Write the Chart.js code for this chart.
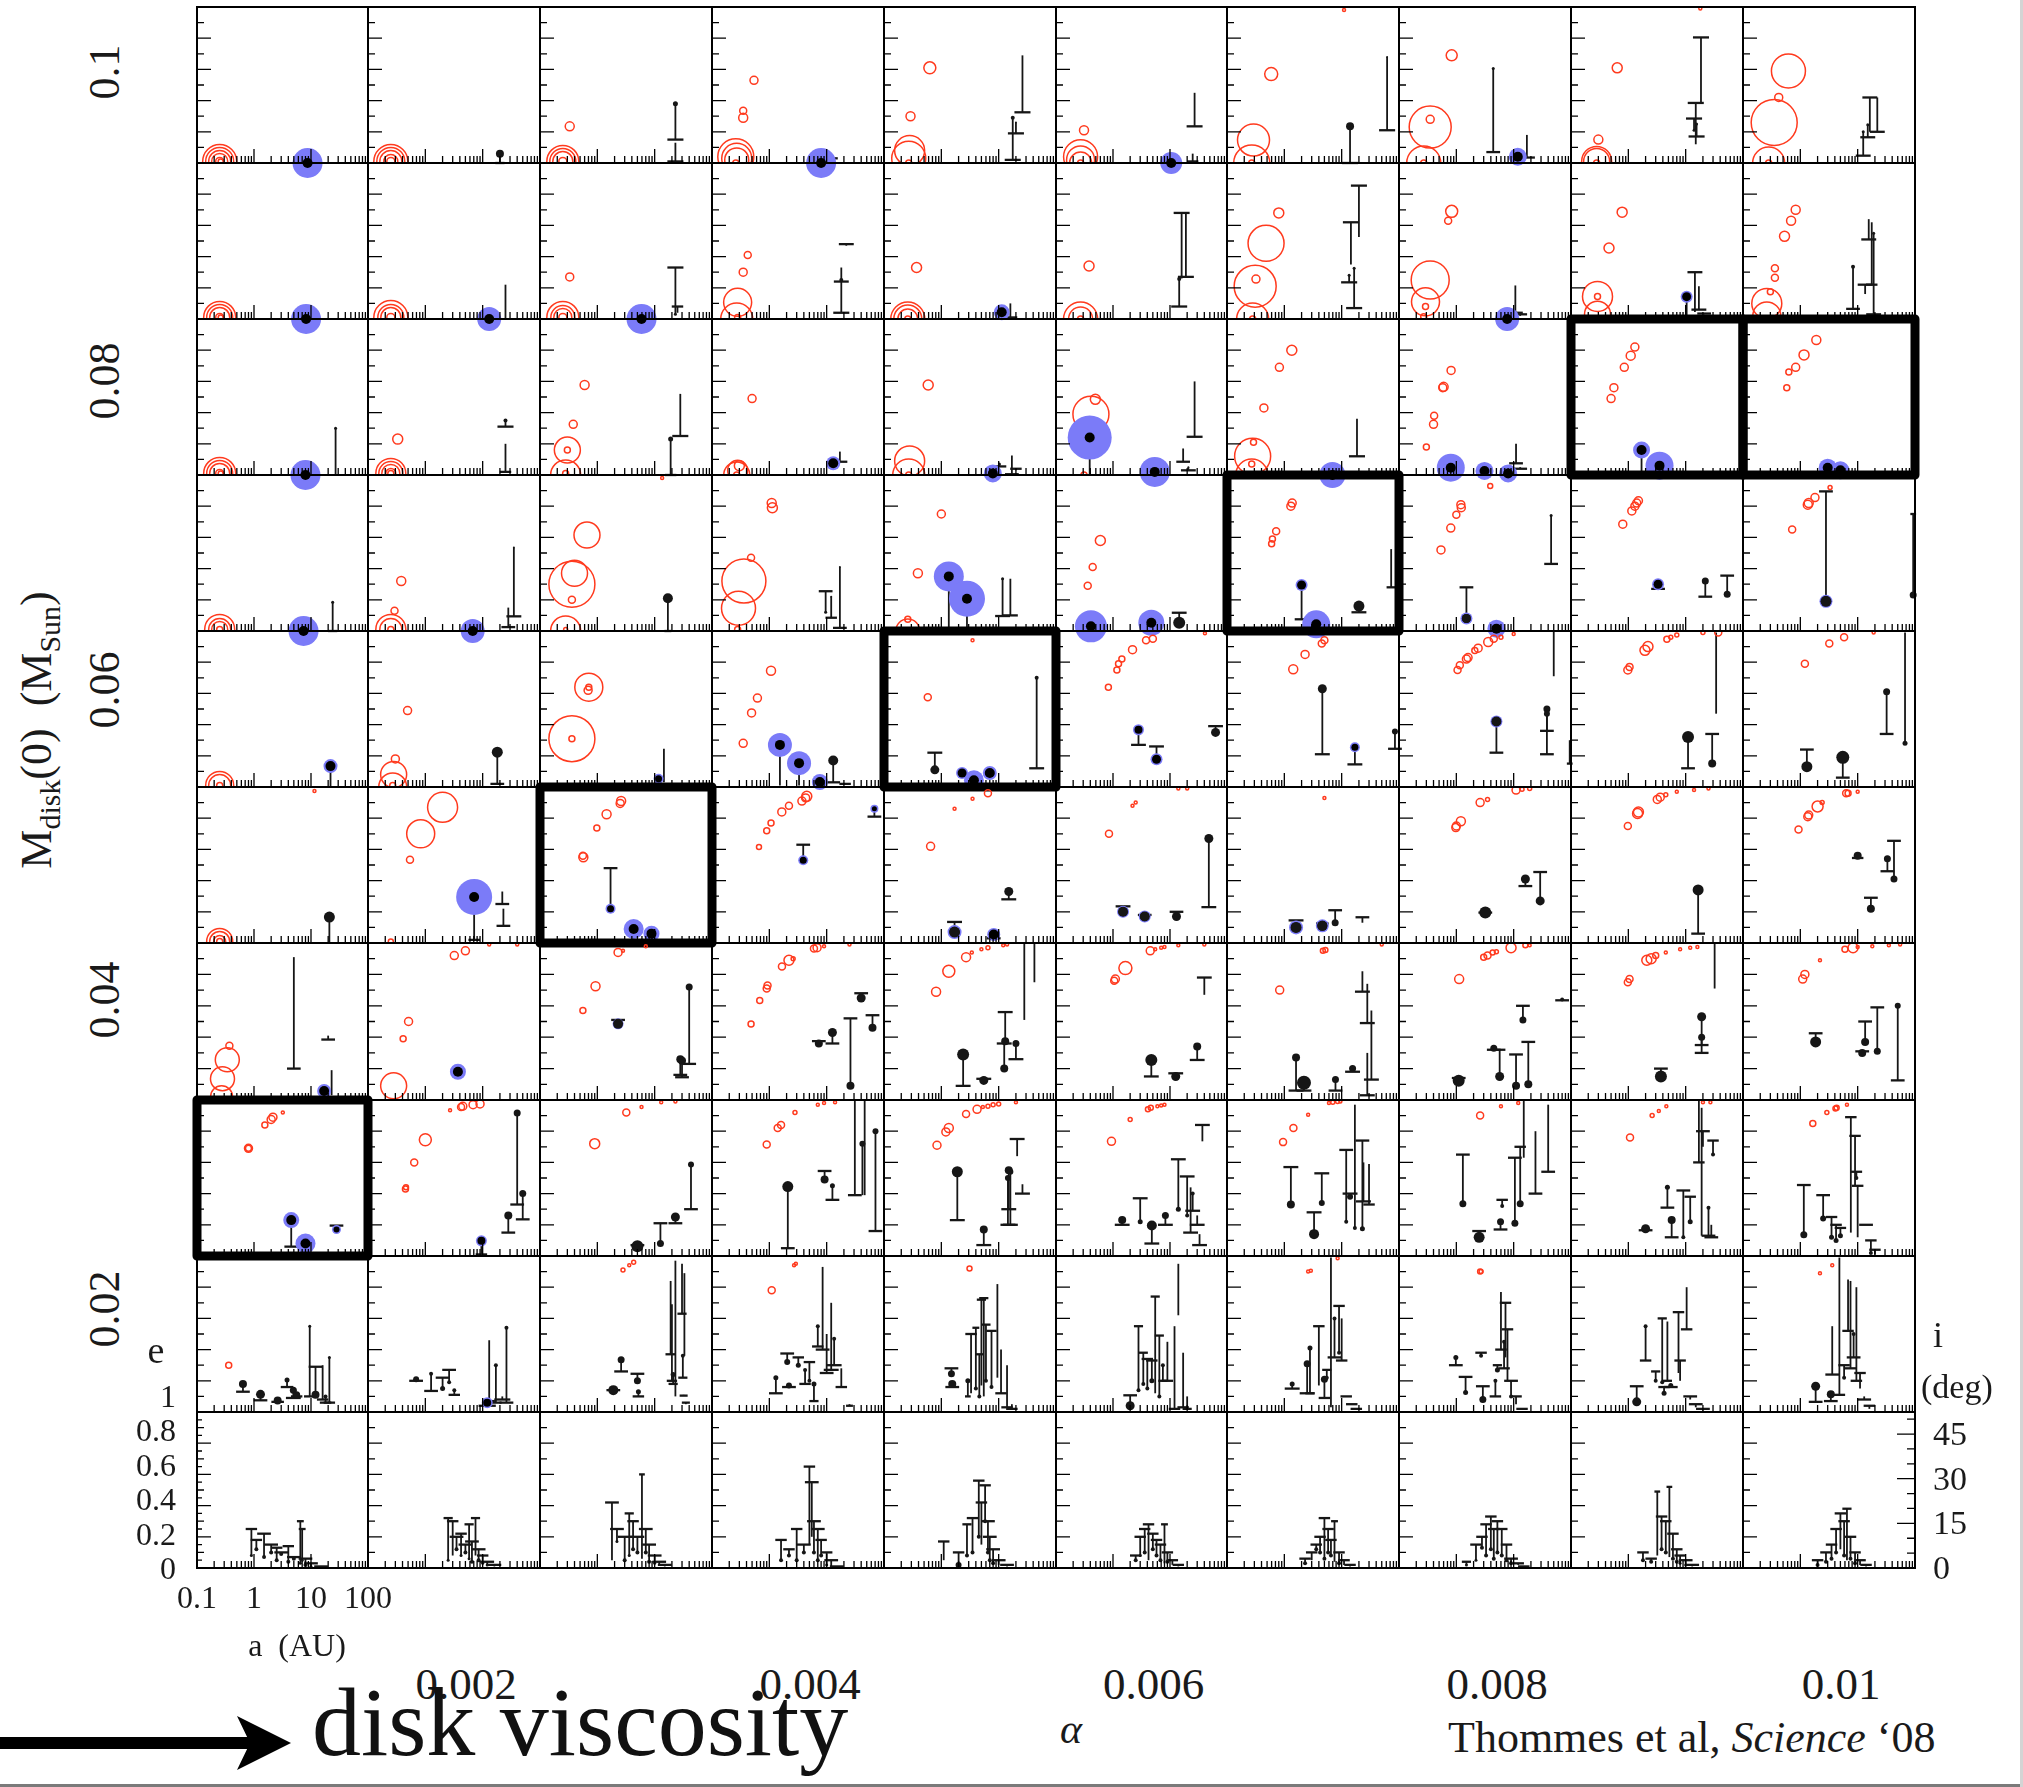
<!DOCTYPE html>
<html>
<head>
<meta charset="utf-8">
<script src="https://cdn.jsdelivr.net/npm/chart.js@4.4.1/dist/chart.umd.min.js"></script>
<style>
  html, body { margin: 0; padding: 0; background: #fff; }
  #page { position: relative; width: 2023px; height: 1787px; overflow: hidden; background: #fff;
          font-family: 'Liberation Serif', 'DejaVu Serif', serif; color: #1a1a1a; }
  #page canvas { position: absolute; }
  .lbl { position: absolute; white-space: nowrap; line-height: 1; transform: translate(-50%, -50%); }
  .rot { transform: translate(-50%, -50%) rotate(-90deg); }
  .lbl sub { font-size: 0.68em; vertical-align: -0.3em; }
</style>
</head>
<body>
<div id="page"></div>
<script>
// grid of runs: rows = initial disk mass (Msun), columns = viscosity alpha
const diskMasses = [0.1, 0.09, 0.08, 0.07, 0.06, 0.05, 0.04, 0.03, 0.02, 0.01];
const alphas = [0.001, 0.002, 0.003, 0.004, 0.005, 0.006, 0.007, 0.008, 0.009, 0.01];

const massTicks = [0.1, 0.08, 0.06, 0.04, 0.02];
const massTickLabels = ['0.1', '0.08', '0.06', '0.04', '0.02'];
const alphaTicks = [0.002, 0.004, 0.006, 0.008, 0.01];
const alphaTickLabels = ['0.002', '0.004', '0.006', '0.008', '0.01'];
const aTicks = [0.1, 1, 10, 100];
const aTickLabels = ['0.1', '1', '10', '100'];
const eTickLabels = ['0', '0.2', '0.4', '0.6', '0.8', '1'];
const incTicks = [0, 15, 30, 45];
const incMax = 52.4;

// runs outlined in bold
const highlighted = [[3, 9], [3, 10], [4, 7], [5, 5], [6, 3], [8, 1]];

// embryos / cores (open red): [row, col, a(AU), e, radius px]
const redCircles = [
  [1,1,0.25,0.01,17],[1,1,0.25,0.01,14],[1,1,0.25,0.01,11],[1,1,0.25,0.01,8],[1,1,0.25,0.01,4],[1,1,0.26,0.01,2.5],
  [1,2,0.25,0.01,17],[1,2,0.25,0.01,14],[1,2,0.25,0.01,11],[1,2,0.25,0.01,7],[1,2,0.25,0.01,4],
  [1,3,0.33,0.235,4.5],[1,3,0.25,0.01,16],[1,3,0.25,0.01,13],[1,3,0.25,0.01,10],[1,3,0.25,0.01,4],
  [1,4,0.54,0.53,4],[1,4,0.35,0.335,3.5],[1,4,0.35,0.29,4.5],[1,4,0.26,0.04,18],[1,4,0.27,0.03,15],[1,4,0.27,0.02,12],[1,4,0.26,0.0,3],
  [1,5,0.63,0.61,6],[1,5,0.29,0.30,4.5],[1,5,0.28,0.08,15],[1,5,0.27,0.03,17],[1,5,0.27,0.0,3],
  [1,6,0.31,0.21,4.5],[1,6,0.27,0.04,17],[1,6,0.27,0.02,14],[1,6,0.27,0.0,11],[1,6,0.27,0.0,3],
  [1,7,11,0.98,1.5],[1,7,0.59,0.57,6.5],[1,7,0.29,0.147,16],[1,7,0.27,0.0,18],[1,7,0.27,0.0,3],
  [1,8,0.83,0.69,5.5],[1,8,0.35,0.23,21],[1,8,0.35,0.28,4],[1,8,0.27,0.0,17],[1,8,0.27,0.0,3],
  [1,9,18,0.99,1.5],[1,9,0.64,0.61,5],[1,9,0.3,0.15,4.5],[1,9,0.28,0.01,15],[1,9,0.28,0.01,13],[1,9,0.28,0.0,3],
  [1,10,0.62,0.59,17],[1,10,0.42,0.42,4],[1,10,0.35,0.26,23],[1,10,0.28,0.0,16],[1,10,0.28,0.0,3],
  [2,1,0.25,0.01,16],[2,1,0.25,0.01,13],[2,1,0.25,0.01,10],[2,1,0.25,0.01,4],[2,1,0.26,0.01,2.5],
  [2,2,0.25,0.01,17],[2,2,0.25,0.01,13],[2,2,0.25,0.01,10],[2,2,0.25,0.01,4],
  [2,3,0.33,0.27,4],[2,3,0.25,0.01,16],[2,3,0.25,0.01,12],[2,3,0.25,0.01,9],[2,3,0.25,0.01,4],
  [2,4,0.42,0.41,3.5],[2,4,0.35,0.30,4],[2,4,0.28,0.107,14],[2,4,0.27,0.0,16],[2,4,0.28,0.01,3],
  [2,5,0.37,0.33,5],[2,5,0.26,0.0,17],[2,5,0.26,0.0,14],[2,5,0.26,0.0,10],[2,5,0.26,0.0,3],
  [2,6,0.38,0.34,5],[2,6,0.27,0.0,17],[2,6,0.27,0.0,12],[2,6,0.27,0.0,3],
  [2,7,0.8,0.68,5],[2,7,0.48,0.485,18],[2,7,0.31,0.21,21],[2,7,0.32,0.256,4],[2,7,0.28,0.0,16],[2,7,0.28,0.0,3],
  [2,8,0.83,0.69,6],[2,8,0.72,0.63,3.5],[2,8,0.35,0.25,19],[2,8,0.29,0.11,14],[2,8,0.29,0.08,3],[2,8,0.27,0.015,3],
  [2,9,0.78,0.685,5],[2,9,0.46,0.455,5],[2,9,0.29,0.145,15],[2,9,0.29,0.145,3],[2,9,0.29,0.03,13],
  [2,10,0.83,0.7,4.5],[2,10,0.69,0.63,4.5],[2,10,0.53,0.53,5],[2,10,0.36,0.325,3.5],[2,10,0.36,0.265,3.5],[2,10,0.3,0.175,3],[2,10,0.26,0.1,15],[2,10,0.26,0.02,14],
  [3,1,0.25,0.01,16],[3,1,0.25,0.01,13],[3,1,0.25,0.01,10],[3,1,0.25,0.01,4],[3,1,0.26,0.01,2.5],
  [3,2,0.33,0.23,5],[3,2,0.25,0.01,15],[3,2,0.25,0.01,12],[3,2,0.25,0.01,9],[3,2,0.25,0.01,5],[3,2,0.25,0.01,3],
  [3,3,0.6,0.577,4.5],[3,3,0.38,0.325,4],[3,3,0.3,0.16,13],[3,3,0.3,0.16,3],[3,3,0.28,0.0,15],[3,3,0.28,0.01,3],
  [3,4,0.5,0.49,4],[3,4,0.3,0.06,5],[3,4,0.28,0.03,10],[3,4,0.27,0.0,13],[3,4,0.27,0.0,3],
  [3,5,0.59,0.577,5],[3,5,0.28,0.09,15],[3,5,0.27,0.0,16],[3,5,0.27,0.0,3],
  [3,6,0.49,0.485,5],[3,6,0.41,0.39,18],[3,6,0.31,0.0,3],
  [3,7,1.35,0.80,5],[3,7,0.82,0.69,4],[3,7,0.44,0.43,4],[3,7,0.28,0.12,18],[3,7,0.29,0.21,3],[3,7,0.27,0.07,3],[3,7,0.27,0.0,16],
  [3,8,0.81,0.67,4],[3,8,0.6,0.565,4.5],[3,8,0.58,0.56,4],[3,8,0.41,0.38,3.5],[3,8,0.4,0.325,4],[3,8,0.3,0.18,3],
  [3,9,1.3,0.82,4],[3,9,1.1,0.765,4.5],[3,9,0.85,0.69,4],[3,9,0.56,0.56,4],[3,9,0.5,0.49,4],
  [3,10,1.9,0.865,4.5],[3,10,1.16,0.77,5],[3,10,0.83,0.69,4],[3,10,0.63,0.66,3],[3,10,0.58,0.56,3],
  [4,1,0.25,0.01,15],[4,1,0.25,0.01,11],[4,1,0.25,0.01,8],[4,1,0.25,0.01,3],
  [4,2,0.38,0.32,4.5],[4,2,0.29,0.13,3.5],[4,2,0.25,0.01,15],[4,2,0.25,0.01,11],[4,2,0.25,0.01,3],
  [4,3,13.5,0.98,1.5],[4,3,0.66,0.615,13],[4,3,0.4,0.37,13],[4,3,0.36,0.3,23],[4,3,0.36,0.2,3.5],[4,3,0.28,0.0,15],[4,3,0.28,0.01,2],
  [4,4,1.13,0.79,5],[4,4,1.1,0.82,4.5],[4,4,0.48,0.47,3.5],[4,4,0.36,0.32,22],[4,4,0.29,0.146,17],[4,4,0.28,0.01,3],
  [4,5,1.0,0.75,4],[4,5,0.39,0.37,4.5],[4,5,0.26,0.075,3],[4,5,0.26,0.0,12],
  [4,6,0.6,0.58,5],[4,6,0.44,0.41,3.5],[4,6,0.36,0.29,3.5],
  [4,7,1.37,0.82,4],[4,7,1.3,0.8,4],[4,7,0.72,0.64,3.5],[4,7,0.62,0.59,3],[4,7,0.6,0.56,3],
  [4,8,1.2,0.81,4],[4,8,1.22,0.79,4],[4,8,1.0,0.745,3.5],[4,8,0.8,0.66,4],[4,8,0.54,0.52,4],[4,8,3.9,0.93,2.5],
  [4,9,1.5,0.835,4],[4,9,1.4,0.82,4],[4,9,1.3,0.8,4],[4,9,1.15,0.77,4],[4,9,0.8,0.685,4],
  [4,10,1.8,0.855,4],[4,10,1.4,0.82,4.5],[4,10,1.35,0.81,4.5],[4,10,0.72,0.65,3.5],[4,10,3.3,0.92,2],
  [5,1,0.25,0.01,14],[5,1,0.25,0.01,11],[5,1,0.25,0.01,3],
  [5,2,0.49,0.49,4],[5,2,0.3,0.18,4],[5,2,0.28,0.08,13],[5,2,0.27,0.0,14],[5,2,0.27,0.01,3],
  [5,3,0.71,0.64,14],[5,3,0.69,0.62,4],[5,3,0.71,0.64,3],[5,3,0.36,0.31,23],[5,3,0.36,0.31,3],
  [5,4,1.07,0.745,4.5],[5,4,0.62,0.57,4],[5,4,0.49,0.475,4],[5,4,0.35,0.28,4],
  [5,5,3.5,0.94,1.5],[5,5,0.58,0.575,3.5],
  [5,6,5,0.95,3.5],[5,6,3.8,0.94,3.5],[5,6,2.2,0.88,4],[5,6,1.43,0.82,3],[5,6,1.25,0.79,3],[5,6,1.17,0.75,3],[5,6,0.83,0.64,3],[5,6,41,0.985,1.5],
  [5,7,4.5,0.92,3.5],[5,7,5,0.94,3.5],[5,7,2.3,0.85,4],[5,7,1.43,0.755,4.5],
  [5,8,1.05,0.75,3.5],[5,8,1.15,0.78,3.5],[5,8,1.5,0.82,4],[5,8,1.6,0.83,4],[5,8,2.4,0.89,4],[5,8,2.1,0.875,3],[5,8,3.6,0.93,4.5],[5,8,4.5,0.95,3.5],[5,8,6,0.96,2],[5,8,10,0.98,1.5],
  [5,9,0.98,0.75,4],[5,9,1.05,0.77,3.5],[5,9,1.95,0.876,5],[5,9,2.2,0.9,5],[5,9,4.7,0.947,3],[5,9,5.5,0.96,2],[5,9,7,0.975,2],[5,9,20,0.99,2],[5,9,37,0.99,3.5],
  [5,10,1.2,0.79,3.5],[5,10,3.2,0.92,3.5],[5,10,5.8,0.96,3.5],[5,10,19,0.99,1.5],
  [6,1,11.5,0.975,1.5],[6,1,0.25,0.01,13],[6,1,0.25,0.01,10],[6,1,0.25,0.01,6],[6,1,0.25,0.01,3],
  [6,2,2,0.87,15],[6,2,0.83,0.70,14],[6,2,0.54,0.534,3.5],[6,2,0.25,0.01,2.5],
  [6,3,2.6,0.91,4.5],[6,3,2.5,0.895,4],[6,3,1.45,0.825,4.5],[6,3,0.98,0.737,3],[6,3,0.57,0.55,4.5],[6,3,0.56,0.56,3.5],
  [6,4,4.5,0.94,5],[6,4,4.3,0.93,4],[6,4,3.7,0.91,4],[6,4,2.2,0.88,3.5],[6,4,1.65,0.84,4],[6,4,1.07,0.77,3],[6,4,0.9,0.72,3],[6,4,0.66,0.616,2.5],
  [6,5,6.5,0.96,3.5],[6,5,3.5,0.925,1.5],[6,5,1.7,0.86,1.5],[6,5,0.65,0.62,4],
  [6,6,2.2,0.88,1.5],[6,6,2.5,0.9,1.5],[6,6,0.85,0.7,3.5],[6,6,14,0.99,1.5],[6,6,20,0.99,1.5],
  [6,7,5,0.93,1.5],
  [6,8,11,0.98,4],[6,8,14,0.985,2],[6,8,19,0.99,2],[6,8,3.5,0.92,2],[6,8,2.6,0.9,4],[6,8,1.2,0.78,4.5],[6,8,1.0,0.75,4],[6,8,0.98,0.74,4],
  [6,9,0.98,0.75,3.5],[6,9,1.45,0.83,5],[6,9,1.5,0.84,5],[6,9,3.2,0.92,4],[6,9,3.6,0.935,4],[6,9,4.5,0.95,2],[6,9,7,0.97,1.5],[6,9,14,0.98,1.5],[6,9,25,0.99,1.5],
  [6,10,0.93,0.727,3.5],[6,10,1.35,0.81,4],[6,10,1.4,0.82,4],[6,10,2,0.875,5.5],[6,10,2.4,0.9,2],[6,10,6.3,0.96,3.5],[6,10,6.8,0.96,3],[6,10,10,0.97,1.5],
  [7,1,0.34,0.256,12],[7,1,0.28,0.136,12],[7,1,0.27,0.02,11],[7,1,0.37,0.345,3.5],
  [7,2,3.2,0.92,4],[7,2,5,0.95,4],[7,2,13,0.99,1.5],[7,2,40,0.99,1.5],[7,2,0.51,0.5,4],[7,2,0.41,0.39,3],[7,2,0.28,0.09,13],
  [7,3,0.93,0.725,4.5],[7,3,0.56,0.57,3],[7,3,2.3,0.94,4],[7,3,2.8,0.95,1.5],[7,3,7,0.98,1.5],
  [7,4,0.48,0.484,3],[7,4,0.68,0.633,3],[7,4,0.93,0.73,3.5],[7,4,0.9,0.71,3.5],[7,4,1.66,0.85,3.5],[7,4,2.2,0.89,5],[7,4,2.6,0.9,2],[7,4,6.8,0.97,4],[7,4,6,0.965,3.5],[7,4,9,0.98,1.5],[7,4,25,0.99,1.5],
  [7,5,0.81,0.69,4.5],[7,5,1.35,0.82,6],[7,5,2.7,0.91,4.5],[7,5,3.4,0.94,1.5],[7,5,5,0.96,1.5],[7,5,6.5,0.97,2],[7,5,12,0.985,1.5],[7,5,14,0.99,1.5],
  [7,6,1.65,0.84,6.5],[7,6,1.1,0.77,4],[7,6,1.05,0.76,3.5],[7,6,4.5,0.95,4],[7,6,5.5,0.96,1.5],[7,6,7,0.97,1.5],[7,6,8,0.975,1.5],[7,6,14,0.985,1.5],[7,6,40,0.99,1.5],
  [7,7,0.83,0.7,4],[7,7,4.7,0.95,2.5],[7,7,5.2,0.955,2.5],[7,7,50,0.99,1.5],
  [7,8,1.12,0.77,4.5],[7,8,3,0.91,3],[7,8,3.5,0.92,3.5],[7,8,4.3,0.94,2.5],[7,8,5,0.945,2],[7,8,9,0.97,5],[7,8,16,0.985,2.5],[7,8,19,0.985,1.5],
  [7,9,0.98,0.75,3.5],[7,9,1.05,0.77,3.5],[7,9,2.1,0.89,5],[7,9,2.5,0.9,5],[7,9,3,0.92,3],[7,9,4.5,0.94,1.5],[7,9,8,0.96,1.5],[7,9,12,0.97,1.5],[7,9,16,0.975,1.5],
  [7,10,1.1,0.77,4],[7,10,1.2,0.8,4],[7,10,2.2,0.89,1.5],[7,10,6,0.96,3],[7,10,8.3,0.97,5],[7,10,10,0.975,1.5],[7,10,18,0.98,1.5],[7,10,35,0.985,1.5],[7,10,55,0.99,1.5],
  [8,1,3.2,0.92,1.5],[8,1,2.15,0.89,4],[8,1,2,0.875,4],[8,1,1.55,0.84,3],[8,1,0.8,0.69,4],[8,1,0.8,0.69,3],
  [8,2,2.7,0.935,1.5],[8,2,4.5,0.96,4],[8,2,4.2,0.955,3.5],[8,2,6.8,0.97,4],[8,2,9,0.975,4],[8,2,1.0,0.745,6],[8,2,0.64,0.6,3.5],[8,2,0.45,0.43,3],[8,2,0.46,0.44,2.5],
  [8,3,3.2,0.92,3.5],[8,3,0.9,0.72,5],[8,3,5.9,0.955,1.5],[8,3,13,0.985,1.5],[8,3,23,0.99,1.5],
  [8,4,0.9,0.715,3.5],[8,4,1.4,0.82,3.5],[8,4,1.6,0.84,3.5],[8,4,2.8,0.92,2],[8,4,7,0.97,1.5],[8,4,9,0.98,1.5],[8,4,14,0.985,1.5],
  [8,5,0.84,0.71,4],[8,5,1.2,0.795,4],[8,5,1.35,0.82,4.5],[8,5,2.7,0.91,3.5],[8,5,4.2,0.94,4],[8,5,5.3,0.955,1.5],[8,5,6.5,0.96,2],[8,5,8,0.97,2],[8,5,10,0.975,2],[8,5,20,0.985,1.5],
  [8,6,0.94,0.735,4],[8,6,2,0.875,2],[8,6,4.1,0.94,2.5],[8,6,4.6,0.95,2.5],[8,6,6,0.96,1.5],[8,6,7,0.965,1.5],[8,6,8,0.97,1.5],
  [8,7,0.95,0.73,3.5],[8,7,1.44,0.82,3.5],[8,7,2.6,0.905,1.5],[8,7,6,0.98,1.5],[8,7,7,0.985,2],[8,7,8.5,0.99,2],[8,7,9.5,0.99,1.5],
  [8,8,2.6,0.9,3.5],[8,8,6,0.96,1.5],[8,8,12,0.98,1.5],
  [8,9,1.07,0.76,3.5],[8,9,2.6,0.9,2],[8,9,3.4,0.93,1.5],[8,9,4.6,0.96,1.5],[8,9,20,0.985,1.5],[8,9,27,0.985,1.5],
  [8,10,1.65,0.85,3],[8,10,2.9,0.92,2],[8,10,4.1,0.945,2.5],[8,10,4.3,0.95,2.5],[8,10,6.5,0.97,1.5],
  [9,1,0.36,0.3,3],
  [9,3,2.8,0.91,2],[9,3,3.6,0.94,1.5],[9,3,4.3,0.96,2],
  [9,4,1.1,0.78,3.5],[9,4,2.7,0.94,1.5],[9,4,2.9,0.95,1.5],
  [9,5,3.1,0.92,2.5],
  [9,7,2.6,0.9,1.5],[9,7,2.9,0.905,1.5],[9,7,8.5,0.985,1.5],
  [9,8,2.6,0.9,2.5],[9,8,2.7,0.9,2],
  [9,10,2.2,0.89,1.5],[9,10,3.6,0.94,1.5]
];

// gas giants (filled blue): [row, col, a(AU), e, radius px]
const giants = [
  [1,1,8.7,0.0,15],[1,4,8,0.0,15],[1,6,10.5,0.0,11],[1,8,11.8,0.04,9],
  [2,1,8.2,0.0,15],[2,2,13,0.0,12],[2,3,5.9,0.0,15],[2,5,11.3,0.043,8],[2,8,7.7,0.0,12],[2,9,10.4,0.143,6],
  [3,1,8,0.0,15],[3,4,13,0.075,7],[3,5,7.9,0.01,9],[3,6,0.39,0.24,22],[3,6,5.4,0.02,15],[3,7,6.9,0.0,13],
  [3,8,0.8,0.047,14],[3,8,3.1,0.026,9],[3,8,8,0.01,9],[3,9,1.7,0.16,8.5],[3,9,3.5,0.06,14],[3,10,3,0.047,9],[3,10,5,0.03,9],
  [4,1,7.4,0.0,15],[4,2,6.7,0.0,12],[4,5,1.35,0.35,15],[4,5,2.8,0.207,18],[4,6,0.41,0.03,16],[4,6,4.7,0.053,13],
  [4,7,2,0.295,6],[4,7,3.6,0.043,14],[4,8,1.5,0.08,6],[4,8,5,0.015,9],[4,9,3.3,0.3,6],[4,10,2.8,0.19,6.5],
  [5,1,22,0.134,7],[5,3,11.7,0.053,5],[5,4,1.53,0.27,12],[5,4,3.3,0.153,12],[5,4,7.6,0.032,8],
  [5,5,2.3,0.09,6],[5,5,3.7,0.043,10],[5,5,7,0.09,7],[5,6,2.8,0.367,5.5],[5,6,5.8,0.178,6],[5,7,17,0.255,5],[5,8,5,0.42,6],
  [6,2,7.1,0.295,18],[6,3,1.7,0.22,5],[6,3,4.3,0.09,10],[6,3,8.8,0.06,8],[6,4,3.9,0.53,5],[6,4,68,0.86,4],
  [6,5,1.7,0.07,7],[6,5,8.2,0.055,6.5],[6,6,1.5,0.2,6],[6,6,3.6,0.17,6],[6,7,1.6,0.1,7],[6,7,4.6,0.11,6.5],
  [7,1,17,0.057,7],[7,2,3.7,0.18,8],[7,3,2.3,0.485,5.5],
  [8,1,4.5,0.23,8],[8,1,8,0.08,10],[8,1,28,0.17,4.5],[8,2,9.5,0.097,5.5],
  [9,2,12,0.06,5.5]
];

// planets: [row, col, a(AU), e, i (on the e scale), dot radius px, bar half-width (dex)]
const planets = [
  [1,2,20,0.06,0.0,4,0.08],
  [1,3,23,0.38,0.15,2.5,0.14],[1,3,23,0.13,0.01,0,0.14],
  [1,4,13,0.0,0.03,0,0.08],
  [1,5,17.6,0.29,0.02,2,0.14],[1,5,20,0.26,0.19,1,0.14],[1,5,26,0.69,0.325,0,0.14],
  [1,6,27,0.45,0.235,0,0.14],[1,6,25,0.06,0.01,0,0.1],
  [1,7,14,0.235,0.0,4,0.14],[1,7,62,0.68,0.21,1,0.14],
  [1,8,4.4,0.605,0.07,1.5,0.12],[1,8,17,0.18,0.035,0,0.14],
  [1,9,18.5,0.385,0.805,0,0.14],[1,9,15,0.12,0.385,0,0.14],[1,9,14,0.21,0.285,1.5,0.14],[1,9,15.5,0.25,0.17,1.5,0.14],
  [1,10,16.3,0.2,0.42,0,0.13],[1,10,22,0.42,0.2,0,0.13],[1,10,12.5,0.2,0.047,1.5,0.13],[1,10,15,0.245,0.165,1.5,0.13],
  [2,2,25,0.0,0.22,0,0],
  [2,3,23,0.03,0.33,1.5,0.14],[2,3,25,0.04,0.08,0,0.1],
  [2,4,18,0.25,0.04,2,0.14],[2,4,18,0.33,0.24,0,0.13],[2,4,22,0.47,0.48,0,0.13],
  [2,5,16,0.1,0.01,0,0.12],
  [2,6,14.5,0.256,0.08,2,0.14],[2,6,16,0.27,0.68,1.5,0.14],[2,6,19,0.68,0.27,0,0.14],
  [2,7,20,0.525,0.855,0,0.14],[2,7,14.5,0.35,0.62,0,0.14],[2,7,16.5,0.325,0.07,1.5,0.14],[2,7,13.5,0.28,0.235,1.5,0.14],
  [2,8,10.7,0.215,0.04,0,0.13],[2,8,13,0.02,0.03,0,0.12],
  [2,9,14.5,0.045,0.3,0,0.13],[2,9,17,0.21,0.06,0,0.13],[2,9,21,0.03,0.035,0,0.12],[2,9,10.4,0.143,0,0,0],
  [2,10,8.3,0.335,0.065,2,0.12],[2,10,15.6,0.64,0.51,0,0.13],[2,10,17.6,0.62,0.22,0,0.1],[2,10,19,0.55,0.03,1.5,0.13],[2,10,13.5,0.16,0.22,0,0.13],
  [3,1,27,0.3,0.0,1.5,0],
  [3,2,25,0.35,0.31,2,0.14],[3,2,25,0.2,0.02,0,0.1],
  [3,3,19,0.23,0.0,2.5,0.1],[3,3,28,0.52,0.25,0,0.14],
  [3,4,17,0.15,0.085,0,0.13],
  [3,5,10.3,0.07,0.055,1.5,0.12],[3,5,17,0.125,0.005,0,0.12],[3,5,20,0.035,0.04,1,0.1],
  [3,6,27,0.6,0.245,0,0.14],[3,6,17,0.17,0.085,0,0.12],[3,6,21,0.05,0.03,1,0.13],[3,6,0.39,0.24,0.0,0,0],
  [3,7,18.5,0.36,0.12,0,0.14],
  [3,8,11,0.2,0.075,0,0.12],[3,8,13,0.05,0.04,0,0.12],
  [3,9,1.7,0.16,0.0,0,0],
  [4,1,24,0.185,0,1.5,0.08],
  [4,2,35,0.535,0.094,1,0.13],[4,2,28,0.15,0.025,0,0.12],
  [4,3,17,0.21,0.0,5,0.06],
  [4,4,9.6,0.12,0.255,1.5,0.12],[4,4,12,0.22,0.085,1,0.1],[4,4,17,0.41,0.02,1,0.12],
  [4,5,11.7,0.335,0.096,1.5,0.13],[4,5,16,0.335,0.1,0,0.13],[4,5,1.35,0.35,0,0,0],[4,5,2.8,0.207,0,0,0],
  [4,6,14.5,0.053,0.117,6,0.13],
  [4,7,2,0.295,0.075,0,0.12],[4,7,20,0.16,0.12,5.5,0.13],[4,7,73,0.525,0.28,0,0.08],
  [4,8,1.5,0.08,0.28,4.5,0.12],[4,8,45,0.74,0.43,1.5,0.12],
  [4,9,3.3,0.3,0.27,0,0.12],[4,9,22,0.32,0.22,3.5,0.12],[4,9,53,0.235,0.355,3.5,0.12],
  [4,10,2.8,0.19,0.895,5.5,0.12],[4,10,93,0.23,0.75,3.5,0.05],
  [5,1,22,0.134,0,0,0],
  [5,2,18,0.223,0.02,5.5,0.12],
  [5,3,14.5,0.245,0.03,0,0],
  [5,4,13,0.17,0.03,5,0.12],[5,4,1.53,0.27,0.01,0,0],[5,4,3.3,0.153,0.01,0,0],[5,4,21,0.015,0.02,0,0.1],
  [5,5,0.77,0.11,0.22,4.5,0.13],[5,5,46,0.7,0.12,2,0.13],
  [5,6,2.8,0.367,0.27,0,0.13],[5,6,5.8,0.178,0.26,0,0.13],[5,6,63,0.35,0.39,4.5,0.13],
  [5,7,4.6,0.63,0.21,4.5,0.13],[5,7,17,0.255,0.145,0,0.13],[5,7,85,0.355,0.245,3,0.12],
  [5,8,50,1.0,0.71,0,0],[5,8,5,0.42,0.22,5,0.12],[5,8,38,0.5,0.36,3.5,0.12],[5,8,38,0.47,0.21,3,0.12],[5,8,95,0.3,0.15,0,0.05],
  [5,9,34,0.99,0.47,0,0],[5,9,11,0.32,0.12,6,0.12],[5,9,29,0.15,0.34,4,0.12],
  [5,10,32,0.61,0.34,3.5,0.12],[5,10,67,0.28,0.99,2.5,0],[5,10,1.3,0.13,0.24,5.5,0.12],[5,10,5.5,0.19,0.06,6.5,0.12],
  [6,1,21,0.166,0,5.5,0],
  [6,2,7.1,0.295,0.02,0,0.1],[6,2,22,0.33,0.25,0,0.12],[6,2,23,0.22,0.11,0,0.12],
  [6,3,1.7,0.22,0.48,0,0.12],
  [6,4,3.9,0.53,0.63,0,0.12],[6,4,68,0.86,0.81,0,0.12],
  [6,5,1.7,0.07,0.135,5.5,0.13],[6,5,8.2,0.055,0.03,0,0.12],[6,5,15,0.33,0.28,4.5,0.13],
  [6,6,1.5,0.2,0.235,5,0.13],[6,6,3.6,0.17,0.18,5,0.12],[6,6,13,0.17,0.2,4.5,0.12],[6,6,48,0.67,0.23,4.5,0.13],
  [6,7,1.6,0.1,0.145,5.5,0.13],[6,7,4.6,0.11,0.125,5,0.11],[6,7,7.7,0.13,0.21,3.5,0.12],[6,7,23,0.13,0.165,0,0.12],
  [6,8,3.2,0.195,0.195,6,0.12],[6,8,16,0.41,0.365,4.5,0.12],[6,8,29,0.27,0.455,4.5,0.12],
  [6,9,16.5,0.34,0.06,5.5,0.12],
  [6,10,10,0.56,0.545,4,0.1],[6,10,33,0.54,0.46,3.5,0.12],[6,10,43,0.41,0.655,3.5,0.12],[6,10,17,0.22,0.29,4,0.12],
  [7,1,5,0.91,0.2,0,0.12],[7,1,20,0.41,0.385,0,0.12],[7,1,23,0.19,0.03,0,0],
  [7,3,2.3,0.485,0.51,5,0.12],[7,3,28,0.26,0.16,4,0.12],[7,3,30,0.25,0.145,4,0.12],[7,3,40,0.72,0.23,3.5,0.12],
  [7,4,7.3,0.36,0.375,4,0.12],[7,4,12.6,0.43,0.36,4.5,0.12],[7,4,26,0.09,0.52,4,0.12],[7,4,40,0.65,0.68,4.5,0.12],[7,4,63,0.46,0.54,4,0.12],
  [7,5,28,1.0,0.51,0,0],[7,5,42,1.0,0.75,0,0],[7,5,2.4,0.29,0.09,6,0.13],[7,5,5.5,0.125,0.135,4.5,0.13],[7,5,13,0.375,0.56,4,0.13],[7,5,12.5,0.2,0.36,4,0.13],[7,5,20,0.36,0.26,3.5,0.13],
  [7,6,40,0.67,0.78,0,0.13],[7,6,4.7,0.255,0.15,6,0.13],[7,6,12.6,0.15,0.17,4.5,0.13],[7,6,30,0.34,0.255,4,0.13],
  [7,7,1.6,0.27,0.06,4,0.13],[7,7,2.2,0.11,0.06,7,0.13],[7,7,7.8,0.13,0.06,3.5,0.12],[7,7,15.5,0.2,0.18,3.5,0.13],[7,7,23,0.82,0.69,0,0.13],[7,7,28,0.74,0.49,0,0.13],[7,7,28,0.3,0.03,0,0.13],[7,7,33,0.57,0.13,0,0.13],
  [7,8,1.1,0.123,0.14,6,0.12],[7,8,4.5,0.33,0.32,3.5,0.12],[7,8,5.7,0.15,0.32,4.5,0.1],[7,8,14.5,0.51,0.6,3.5,0.12],[7,8,11,0.09,0.29,4,0.12],[7,8,18,0.1,0.37,4,0.12],[7,8,70,0.64,0.635,2,0.12],
  [7,9,32,1.0,0.71,0,0],[7,9,3.7,0.15,0.2,6,0.12],[7,9,19,0.53,0.35,4.5,0.12],[7,9,19,0.4,0.3,3.5,0.12],
  [7,10,1.85,0.37,0.425,5.5,0.12],[7,10,13.5,0.37,0.5,4,0.12],[7,10,12,0.3,0.31,4,0.12],[7,10,22,0.31,0.59,3.5,0.12],[7,10,50,0.6,0.125,3,0.12],
  [8,1,4.5,0.23,0.06,0,0.12],[8,1,28,0.17,0.195,0,0.12],
  [8,2,40,0.917,0.33,3.5,0.12],[8,2,50,0.4,0.235,3.5,0.12],[8,2,28,0.26,0.15,4,0.12],[8,2,9.5,0.097,0.01,0,0.1],
  [8,3,5,0.063,0.07,6,0.12],[8,3,12.6,0.08,0.21,3.5,0.12],[8,3,23,0.25,0.21,4.5,0.12],[8,3,43,0.586,0.3,3,0.12],
  [8,4,2.1,0.445,0.05,5.5,0.12],[8,4,9.2,0.49,0.545,4,0.12],[8,4,12.6,0.45,0.36,2.5,0.12],[8,4,31,1.0,0.39,0,0.12],[8,4,42,0.72,0.39,3,0],[8,4,46,1.0,0.39,0,0],[8,4,71,0.8,0.16,3,0.12],
  [8,5,1.9,0.54,0.23,5.5,0.13],[8,5,5.5,0.17,0.07,4,0.13],[8,5,15,0.55,0.3,4,0.13],[8,5,16,0.54,0.2,3,0.13],[8,5,14.5,0.5,0.2,3,0.13],[8,5,21,0.64,0.75,0,0.13],[8,5,26,0.46,0.4,0,0.13],
  [8,6,37,0.735,0.84,0,0.13],[8,6,1.45,0.23,0.2,4,0.13],[8,6,3,0.22,0.37,2.5,0.13],[8,6,4.8,0.195,0.08,5,0.13],[8,6,8.3,0.26,0.2,3.5,0.13],[8,6,14,0.3,0.62,2.5,0.13],[8,6,20,0.26,0.51,2,0.13],[8,6,23,0.44,0.15,0,0.13],[8,6,25,0.4,0.29,2,0.13],[8,6,30,0.26,0.2,0,0.13],[8,6,33,0.14,0.07,0,0.13],
  [8,7,1.3,0.33,0.57,4,0.13],[8,7,3.3,0.14,0.28,5,0.13],[8,7,4.5,0.34,0.53,3,0.13],[8,7,12,0.22,0.68,2,0.12],[8,7,14,0.38,0.4,3,0.13],[8,7,17,0.18,0.97,2,0],[8,7,23,0.175,0.74,2.5,0.12],[8,7,24,0.6,0.35,0,0.13],[8,7,30,0.59,0.33,0,0.1],
  [8,8,1.3,0.335,0.65,3.5,0.12],[8,8,2.5,0.12,0.16,5.5,0.12],[8,8,5.9,0.22,0.17,3.5,0.12],[8,8,6.3,0.32,0.36,2,0.1],[8,8,10.5,0.21,0.63,3.5,0.12],[8,8,13,0.335,0.7,3.5,0.1],[8,8,15,1.0,0.63,0,0],[8,8,24,0.8,0.4,0,0.12],[8,8,40,0.97,0.54,0,0.12],
  [8,9,2,0.175,0.165,4.5,0.12],[8,9,4.8,0.44,0.31,2.5,0.12],[8,9,5.7,0.23,0.12,4,0.12],[8,9,9.1,0.12,0.42,2,0.12],[8,9,12,0.22,0.38,2.5,0.1],[8,9,17,1.0,0.6,0,0.1],[8,9,19,0.13,0.95,0,0],[8,9,20,0.7,0.8,0,0.12],[8,9,25,0.31,0.13,2,0.12],[8,9,30,0.65,0.74,2,0.1],[8,9,28,0.2,0.12,0,0.12],
  [8,10,1.15,0.136,0.455,3.5,0.12],[8,10,2.5,0.24,0.39,3,0.12],[8,10,3.5,0.12,0.25,2.5,0.1],[8,10,4.2,0.1,0.2,2.5,0.1],[8,10,5,0.13,0.18,2.5,0.1],[8,10,7.6,0.15,0.89,0,0.1],[8,10,9,0.45,0.77,0,0.1],[8,10,9.5,0.5,0.54,2,0.1],[8,10,10,0.12,0.45,0,0.1],[8,10,14,0.2,0.2,0,0.12],[8,10,17,0.02,0.1,2,0.1],[8,10,20,0.01,0.04,0,0.1],
  [9,1,0.64,0.18,0.13,4,0.12],[9,1,1.3,0.113,0.075,4.5,0.12],[9,1,2.6,0.074,0.065,4,0.11],[9,1,3.8,0.205,0.16,2.5,0.11],[9,1,4.9,0.14,0.09,3.5,0.13],[9,1,5.6,0.11,0.1,3.5,0.1],[9,1,9.5,0.55,0.1,1.5,0.1],[9,1,12,0.11,0.29,4,0.12],[9,1,16,0.3,0.08,0,0.1],[9,1,21,0.35,0.06,1.5,0.1],[9,1,18,0.1,0.06,2,0.1],
  [9,2,0.69,0.21,0.2,3,0.12],[9,2,1.26,0.245,0.135,2,0.12],[9,2,2,0.15,0.22,2.5,0.12],[9,2,2.6,0.19,0.27,2,0.12],[9,2,3.2,0.14,0.11,2,0.1],[9,2,13,0.46,0.07,0,0.1],[9,2,17,0.3,0.06,2,0.1],[9,2,26,0.54,0.06,2,0.12],[9,2,22,0.1,0.08,0,0.14],[9,2,12,0.06,0.04,0,0.15],
  [9,3,1.9,0.14,0.14,5,0.12],[9,3,2.6,0.335,0.26,3.5,0.12],[9,3,5,0.2,0.245,3.5,0.12],[9,3,5.2,0.13,0.1,2.5,0.1],[9,3,19,0.84,0.37,0,0.09],[9,3,20,0.69,0.2,0,0.09],[9,3,21,0.24,0.18,2.5,0.08],[9,3,23,0.97,0.1,0,0],[9,3,30,0.95,0.63,0,0.08],[9,3,31,0.36,0.22,2,0.08],[9,3,33,0.89,0.36,0,0],[9,3,32,0.11,0.105,0,0.07],[9,3,35,0.05,0.06,0,0.07],
  [9,4,1.3,0.22,0.12,2.5,0.12],[9,4,2.05,0.32,0.375,3,0.12],[9,4,2.2,0.17,0.16,3,0.12],[9,4,3.2,0.3,0.35,2.5,0.1],[9,4,4.2,0.27,0.18,2,0.1],[9,4,5,0.2,0.32,2,0.1],[9,4,6,0.18,0.07,2.5,0.08],[9,4,7,0.55,0.42,2,0.1],[9,4,8.5,0.93,0.4,0,0.12],[9,4,10,0.5,0.25,0,0.12],[9,4,12,0.7,0.27,0,0.13],[9,4,13.5,0.47,0.3,2,0.13],[9,4,18,0.28,0.16,0,0.1],[9,4,25,0.05,0.04,0,0.06],
  [9,5,1.5,0.245,0.28,3.5,0.12],[9,5,1.55,0.18,0.16,4,0.12],[9,5,2.9,0.2,0.1,2.5,0.05],[9,5,3.3,0.12,0.5,0,0.1],[9,5,4,0.15,0.54,2,0.06],[9,5,4.6,0.1,0.37,2,0.07],[9,5,5,0.17,0.72,0,0.08],[9,5,5.5,0.1,0.73,0,0.08],[9,5,6,0.2,0.56,2,0.08],[9,5,7.5,0.16,0.52,2,0.09],[9,5,9.5,0.22,0.82,0,0],[9,5,11,0.4,0.12,0,0.1],[9,5,14,0.3,0.03,0,0.1],[9,5,17,0.05,0.02,0,0.1],
  [9,6,2,0.04,0.107,4.5,0.12],[9,6,2.8,0.14,0.55,2,0.08],[9,6,3.4,0.18,0.38,2,0.08],[9,6,4,0.15,0.34,2,0.1],[9,6,4.8,0.2,0.33,2.5,0.1],[9,6,5.5,0.12,0.74,0,0.08],[9,6,6.5,0.1,0.49,2,0.08],[9,6,7.5,0.3,0.2,2,0.08],[9,6,9,0.45,0.2,0,0.1],[9,6,12,0.55,0.02,0,0.1],[9,6,14,0.95,0.62,0,0],[9,6,17,0.38,0.03,0,0.1],[9,6,20,0.1,0.02,0,0.08],
  [9,7,1.37,0.18,0.15,2.5,0.13],[9,7,2.5,0.31,0.12,3.5,0.13],[9,7,2.8,0.41,0.12,2.5,0.08],[9,7,4,0.17,0.55,0,0.1],[9,7,5,0.21,0.09,3.5,0.1],[9,7,5.5,0.22,0.27,2,0.08],[9,7,6.5,0.99,0.03,0,0],[9,7,7.5,0.6,0.35,2,0.12],[9,7,9,0.38,0.68,2,0.1],[9,7,10,0.6,0.33,0,0.1],[9,7,12,0.1,0.1,0,0.1],[9,7,15,0.05,0.05,0,0.1],[9,7,18,0.02,0.02,0,0.1],
  [9,8,0.98,0.35,0.3,2.5,0.12],[9,8,1.45,0.125,0.225,2.5,0.12],[9,8,2.9,0.08,0.165,3.5,0.12],[9,8,2.7,0.36,0.38,2,0.1],[9,8,4.8,0.2,0.1,2,0.1],[9,8,5.2,0.27,0.3,2.5,0.08],[9,8,6,0.77,0.4,0,0.1],[9,8,6.8,0.45,0.28,2,0.1],[9,8,7.2,0.35,0.7,0,0.1],[9,8,7.8,0.2,0.53,0,0.1],[9,8,9,0.1,0.2,2,0.12],[9,8,11,0.05,0.1,0,0.1],[9,8,14,0.02,0.02,0,0.1],
  [9,9,1.4,0.065,0.165,4.5,0.12],[9,9,2,0.55,0.33,2,0.1],[9,9,3,0.2,0.26,2,0.08],[9,9,3.9,0.19,0.6,2,0.08],[9,9,4.2,0.12,0.16,2.5,0.1],[9,9,4.8,0.58,0.2,0,0.08],[9,9,5.5,0.17,0.16,2.5,0.12],[9,9,7.5,0.25,0.64,0,0.1],[9,9,8,0.2,0.33,0,0.1],[9,9,10.4,0.8,0.53,0,0.1],[9,9,12,0.08,0.1,0,0.12],[9,9,15,0.03,0.05,0,0.12],[9,9,20,0.01,0.02,0,0.12],
  [9,10,1.85,0.165,0.065,4.5,0.12],[9,10,3.4,0.113,0.07,4,0.12],[9,10,3.6,0.55,0.24,0,0.12],[9,10,4.8,0.99,0.11,0,0.1],[9,10,5.8,0.22,0.3,2,0.1],[9,10,6.8,0.85,0.52,0,0.1],[9,10,7.5,0.84,0.28,0,0.1],[9,10,8.5,0.5,0.35,2,0.12],[9,10,9.5,0.8,0.2,0,0.1],[9,10,11,0.15,0.25,0,0.1],[9,10,13,0.1,0.08,0,0.12],[9,10,16,0.02,0.04,0,0.1],
  [10,1,0.9,0.08,0.25,1.5,0.1],[10,1,1.1,0.12,0.18,2,0.1],[10,1,1.5,0.07,0.22,2,0.12],[10,1,2,0.1,0.15,2,0.12],[10,1,2.5,0.05,0.13,2,0.1],[10,1,3,0.09,0.1,2,0.12],[10,1,4,0.04,0.14,2,0.1],[10,1,5,0.06,0.07,2,0.12],[10,1,6.5,0.03,0.3,1.5,0.06],[10,1,7,0.05,0.25,1.5,0.06],[10,1,8,0.02,0.06,2,0.12],[10,1,10,0.01,0.03,1.5,0.12],[10,1,15,0.005,0.01,0,0.12],
  [10,2,2.5,0.05,0.32,1.5,0.08],[10,2,3,0.08,0.3,0,0.1],[10,2,3.5,0.12,0.2,2,0.12],[10,2,4.2,0.08,0.22,1.5,0.1],[10,2,5,0.1,0.15,2,0.12],[10,2,5.8,0.06,0.28,1.5,0.08],[10,2,6.5,0.04,0.17,2,0.12],[10,2,7.5,0.08,0.32,0,0.08],[10,2,8.5,0.05,0.12,2,0.12],[10,2,10,0.03,0.08,1.5,0.1],[10,2,12,0.02,0.04,1.5,0.12],[10,2,16,0.01,0.02,0,0.12],
  [10,3,1.8,0.05,0.42,0,0.12],[10,3,2.2,0.17,0.25,1.5,0.12],[10,3,3,0.05,0.2,2,0.12],[10,3,3.6,0.08,0.35,1.5,0.08],[10,3,4.2,0.12,0.3,2,0.1],[10,3,5,0.1,0.2,2,0.12],[10,3,6,0.06,0.6,0,0.05],[10,3,7,0.1,0.25,2,0.12],[10,3,8,0.04,0.15,2,0.12],[10,3,10,0.03,0.08,1.5,0.12],[10,3,12,0.02,0.04,0,0.12],[10,3,15,0.01,0.02,0,0.12],
  [10,4,1.6,0.05,0.18,2,0.1],[10,4,2.2,0.08,0.12,2,0.1],[10,4,3,0.05,0.25,2,0.1],[10,4,4,0.1,0.15,2,0.12],[10,4,5,0.15,0.65,0,0.1],[10,4,5.5,0.2,0.55,0,0.12],[10,4,6,0.1,0.3,2,0.12],[10,4,7,0.05,0.25,2,0.12],[10,4,8,0.08,0.18,2,0.1],[10,4,10,0.02,0.1,1.5,0.1],[10,4,12,0.01,0.05,0,0.12],[10,4,15,0.0,0.01,0,0.12],
  [10,5,1.1,0.05,0.17,0,0.1],[10,5,2,0.02,0.1,3,0.1],[10,5,2.8,0.08,0.28,2,0.08],[10,5,3.5,0.1,0.32,2,0.1],[10,5,4.5,0.2,0.56,2,0.1],[10,5,5,0.15,0.42,0,0.1],[10,5,5.8,0.3,0.53,2,0.1],[10,5,6.5,0.1,0.3,2,0.12],[10,5,7,0.05,0.2,2,0.12],[10,5,8,0.03,0.12,2,0.12],[10,5,10,0.02,0.05,0,0.12],[10,5,14,0.01,0.02,0,0.12],
  [10,6,2.5,0.05,0.08,2,0.1],[10,6,3,0.08,0.2,1.5,0.1],[10,6,3.6,0.1,0.25,2,0.1],[10,6,4.2,0.05,0.28,0,0.1],[10,6,5,0.12,0.22,2,0.1],[10,6,5.8,0.08,0.18,2,0.1],[10,6,6.8,0.05,0.15,2,0.1],[10,6,8,0.03,0.28,0,0.06],[10,6,9,0.04,0.1,2,0.1],[10,6,11,0.02,0.05,0,0.1],[10,6,14,0.01,0.02,0,0.1],
  [10,7,2.3,0.03,0.06,2,0.1],[10,7,3,0.05,0.1,0,0.1],[10,7,3.6,0.12,0.15,2,0.1],[10,7,4.2,0.1,0.2,2,0.1],[10,7,5,0.06,0.32,2,0.1],[10,7,5.8,0.1,0.25,2,0.1],[10,7,6.5,0.08,0.18,2,0.1],[10,7,7.5,0.04,0.3,0,0.06],[10,7,9,0.03,0.1,2,0.1],[10,7,11,0.02,0.05,0,0.1],[10,7,14,0.01,0.02,0,0.1],
  [10,8,1.5,0.02,0.04,1.5,0.08],[10,8,2.2,0.05,0.15,1.5,0.1],[10,8,2.8,0.13,0.2,2,0.1],[10,8,3.3,0.08,0.28,2,0.1],[10,8,4,0.12,0.33,2,0.1],[10,8,4.5,0.06,0.25,2,0.1],[10,8,5.2,0.1,0.3,2,0.1],[10,8,6.2,0.08,0.25,2,0.1],[10,8,7.5,0.05,0.15,2,0.1],[10,8,9,0.03,0.06,2,0.12],[10,8,12,0.02,0.03,0,0.1],[10,8,15,0.01,0.01,0,0.1],
  [10,9,1.8,0.05,0.1,2,0.1],[10,9,2.5,0.04,0.06,2,0.1],[10,9,3.2,0.08,0.49,0,0.05],[10,9,3.8,0.12,0.33,2,0.1],[10,9,4.5,0.1,0.3,2,0.1],[10,9,5.2,0.07,0.52,0,0.05],[10,9,6,0.06,0.22,2,0.1],[10,9,7,0.04,0.12,2,0.1],[10,9,8,0.03,0.08,1.5,0.1],[10,9,10,0.02,0.05,1.5,0.12],[10,9,13,0.01,0.02,0,0.12],
  [10,10,2,0.02,0.05,2,0.1],[10,10,2.8,0.04,0.1,2,0.1],[10,10,3.5,0.06,0.15,2,0.1],[10,10,4.2,0.1,0.25,2,0.1],[10,10,5,0.12,0.35,0,0.1],[10,10,5.8,0.08,0.3,2,0.1],[10,10,6.5,0.05,0.38,0,0.08],[10,10,7.5,0.06,0.2,2,0.1],[10,10,9,0.03,0.1,2,0.1],[10,10,11,0.02,0.05,0,0.1],[10,10,14,0.01,0.02,0,0.1]
];

// ---- layout of the panel grid on the page ----
const page = document.getElementById('page');
const GRID = { left: 196.5, top: 6.5, w: 171.8, h: 156.15 };
const PAD = 40;
const colX = c => Math.round(GRID.left + c * GRID.w);
const rowY = r => Math.round(GRID.top + r * GRID.h);

const RED = '#ff3a1e';
const BLUE = '#7b7bf8';
const INK = '#161616';

const inRun = (list, r, c) => list.filter(d => d[0] === r && d[1] === c);

// bars from e to i, frame and inward ticks for every panel
const panelArt = {
  id: 'panelArt',
  beforeDatasetsDraw(chart) {
    const { ctx, scales: { x, y } } = chart;
    ctx.save();
    ctx.strokeStyle = INK;
    ctx.lineCap = 'butt';
    chart.data.datasets[0].data.forEach(p => {
      const px = x.getPixelForValue(p.x);
      const pe = y.getPixelForValue(p.y);
      const pi = y.getPixelForValue(p.top);
      ctx.lineWidth = 1.8;
      ctx.beginPath(); ctx.moveTo(px, pe); ctx.lineTo(px, pi); ctx.stroke();
      if (p.cap > 0) {
        const f = Math.pow(10, p.cap);
        ctx.lineWidth = 2.3;
        ctx.beginPath();
        ctx.moveTo(x.getPixelForValue(p.x / f), pi);
        ctx.lineTo(x.getPixelForValue(p.x * f), pi);
        ctx.stroke();
      }
    });
    ctx.restore();
  },
  afterDraw(chart, args, opts) {
    const { ctx, chartArea: a, scales: { x, y, inc } } = chart;
    ctx.save();
    ctx.strokeStyle = '#000';
    ctx.lineWidth = 2;
    ctx.strokeRect(a.left, a.top, a.right - a.left, a.bottom - a.top);

    ctx.lineWidth = 1.3;
    ctx.beginPath();
    [0.1, 1, 10].forEach(dec => {
      for (let k = 1; k < 10; k++) {
        const px = x.getPixelForValue(k * dec);
        const len = k === 1 ? 14 : 7;
        ctx.moveTo(px, a.bottom); ctx.lineTo(px, a.bottom - len);
      }
    });
    for (let k = 1; k < 10; k++) {
      const py = y.getPixelForValue(k / 10);
      const len = k % 2 === 0 ? 14 : 7;
      ctx.moveTo(a.left, py); ctx.lineTo(a.left + len, py);
    }
    if (opts.fineTicks) {
      for (let k = 1; k < 20; k += 2) {
        const py = y.getPixelForValue(k / 20);
        ctx.moveTo(a.left, py); ctx.lineTo(a.left + 5, py);
      }
    }
    if (opts.incTicks) {
      for (let v = 5; v <= 50; v += 5) {
        const py = inc.getPixelForValue(v);
        const len = v % 15 === 0 ? 18 : 8;
        ctx.moveTo(a.right, py); ctx.lineTo(a.right - len, py);
      }
    }
    ctx.stroke();

    if (opts.bold) {
      ctx.lineWidth = 9;
      ctx.lineJoin = 'round';
      ctx.strokeRect(a.left, a.top, a.right - a.left, a.bottom - a.top);
    }
    ctx.restore();
  }
};

for (let r = 1; r <= 10; r++) {
  for (let c = 1; c <= 10; c++) {
    const x0 = colX(c - 1), x1 = colX(c), y0 = rowY(r - 1), y1 = rowY(r);
    const canvas = document.createElement('canvas');
    canvas.width = x1 - x0 + 2 * PAD;
    canvas.height = y1 - y0 + 2 * PAD;
    canvas.style.left = (x0 - PAD) + 'px';
    canvas.style.top = (y0 - PAD) + 'px';
    page.appendChild(canvas);

    const bold = highlighted.some(h => h[0] === r && h[1] === c);

    new Chart(canvas, {
      type: 'bubble',
      data: {
        datasets: [
          {
            label: 'planets',
            data: inRun(planets, r, c).map(p => ({ x: p[2], y: p[3], r: p[5], top: p[4], cap: p[6] })),
            backgroundColor: INK, borderWidth: 0, clip: false, order: 0
          },
          {
            label: 'giant cores',
            data: inRun(giants, r, c).map(g => ({ x: g[2], y: g[3], r: Math.min(5, g[4] - 1.5) })),
            backgroundColor: '#000', borderWidth: 0, clip: false, order: 1
          },
          {
            label: 'gas giants',
            data: inRun(giants, r, c).map(g => ({ x: g[2], y: g[3], r: g[4] })),
            backgroundColor: BLUE, borderWidth: 0, clip: false, order: 2
          },
          {
            label: 'embryos',
            data: inRun(redCircles, r, c).map(e => ({ x: e[2], y: e[3], r: e[4] })),
            backgroundColor: 'rgba(0,0,0,0)', borderColor: RED, borderWidth: 1.5, clip: 0, order: 3
          }
        ]
      },
      options: {
        responsive: false,
        animation: false,
        devicePixelRatio: 1,
        events: [],
        layout: { padding: PAD },
        plugins: {
          legend: { display: false },
          tooltip: { enabled: false },
          panelArt: { bold, fineTicks: r === 10 && c === 1, incTicks: r === 10 && c === 10 }
        },
        scales: {
          x: { type: 'logarithmic', min: 0.1, max: 100, display: false },
          y: { type: 'linear', min: 0, max: 1, display: false },
          inc: { type: 'linear', position: 'right', min: 0, max: incMax, display: false }
        }
      },
      plugins: [panelArt]
    });
  }
}

// ---- text around the grid ----
function addLabel(html, x, y, style, cls) {
  const d = document.createElement('div');
  d.className = 'lbl' + (cls ? ' ' + cls : '');
  d.innerHTML = html;
  d.style.left = x + 'px';
  d.style.top = y + 'px';
  Object.assign(d.style, style || {});
  page.appendChild(d);
  return d;
}

// disk mass labels down the left side
massTicks.forEach((m, k) => {
  addLabel(massTickLabels[k], 105, 72 + (0.1 - m) * 15462, { fontSize: '44px' }, 'rot');
});
addLabel('M<sub>disk</sub>(0)&nbsp;&nbsp;(M<sub>Sun</sub>)', 40, 730, { fontSize: '44px' }, 'rot');

// alpha labels under the grid
alphaTicks.forEach((v, k) => {
  const c = alphas.indexOf(v);
  const cx = (colX(c) + colX(c + 1)) / 2 + 12;
  addLabel(alphaTickLabels[k], cx, 1684, { fontSize: '45px' });
});
addLabel('&alpha;', 1071, 1729, { fontSize: '42px', fontStyle: 'italic' });

// semimajor axis labels under the corner panel
const cornerW = colX(1) - colX(0);
aTicks.forEach((v, k) => {
  const px = colX(0) + (Math.log10(v) + 1) / 3 * cornerW;
  addLabel(aTickLabels[k], px, 1597, { fontSize: '32px' });
});
addLabel('a&nbsp;&nbsp;(AU)', 297, 1645, { fontSize: '32px' });

// eccentricity labels to the left of the corner panel
eTickLabels.forEach((t, k) => {
  const d = addLabel(t, 176, 1568 - k * 34.4, { fontSize: '32px' });
  d.style.transform = 'translate(-100%, -50%)';
});
addLabel('e', 156, 1350, { fontSize: '38px' });

// inclination labels to the right of the last panel
const lastH = rowY(10) - rowY(9);
incTicks.forEach(v => {
  const d = addLabel(String(v), 1933, rowY(10) - v / incMax * lastH, { fontSize: '34px' });
  d.style.transform = 'translate(0, -50%)';
});
addLabel('i', 1938, 1335, { fontSize: '36px' });
const deg = addLabel('(deg)', 1921, 1387, { fontSize: '34px' });
deg.style.transform = 'translate(0, -50%)';

// credit and the big caption
const credit = addLabel('Thommes et al, <i>Science</i> &lsquo;08', 1448, 1738, { fontSize: '44px' });
credit.style.transform = 'translate(0, -50%)';
const caption = addLabel('disk viscosity', 312, 1673, { fontSize: '98px', color: '#111' });
caption.style.transform = 'none';

// arrow in front of the caption
page.insertAdjacentHTML('beforeend',
  '<svg style="position:absolute;left:0;top:1700px" width="300" height="90">' +
  '<rect x="0" y="37" width="252" height="12" fill="#000"/>' +
  '<polygon points="237,16 291,43 237,70 250,43" fill="#000"/></svg>');

// frame edges of the slide
page.insertAdjacentHTML('beforeend',
  '<div style="position:absolute;left:0;top:1784px;width:2023px;height:3px;background:#7a7a7a"></div>' +
  '<div style="position:absolute;left:2020px;top:0;width:3px;height:1787px;background:#d4d4d4"></div>');
</script>
</body>
</html>
